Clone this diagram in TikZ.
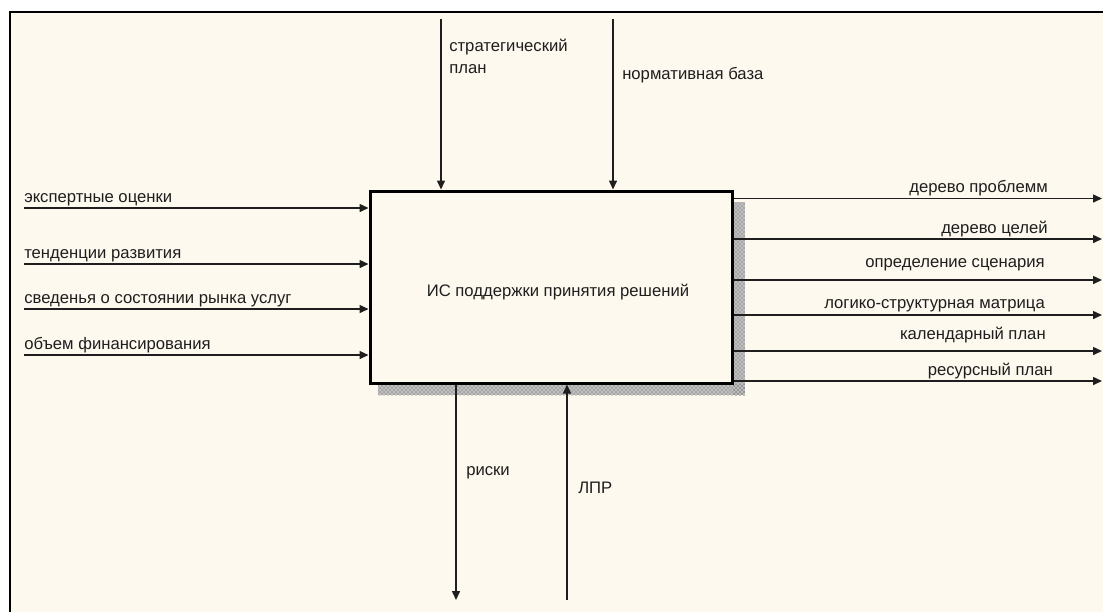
\documentclass[tikz,border=0pt]{standalone}
\usepackage{fontspec}
\setmainfont{Liberation Sans}
\usetikzlibrary{arrows.meta,patterns,calc}
\definecolor{bgcream}{HTML}{FEF9EE}
\definecolor{ink}{HTML}{1E1E1E}
\tikzset{
  conn/.style={draw=ink, line width=1.1pt},
  arr/.style={conn, -{Triangle[length=6.75pt,width=6pt]}},
  lbl/.style={inner sep=0pt, text=ink, font=\fontsize{12.5}{16.5}\selectfont},
  func/.style={draw=black, line width=2.25pt, fill=bgcream, minimum width=271.5pt, minimum height=144pt, inner sep=0pt},
  shadowbg/.style={fill=black!25},
  shadowpat/.style={pattern=crosshatch dots, pattern color=black!65},
}
\begin{document}
\begin{tikzpicture}[x=0.75pt,y=-0.75pt]
\useasboundingbox (0,0) rectangle (1103,612);
% frame
\fill[bgcream] (10,12) rectangle (1103,612);
\draw[black, line width=1.5pt] (9.5,612) -- (9.5,12) -- (1103,12);
% shadow
\fill[shadowbg] (733,202) rectangle (745,395);
\fill[shadowbg] (378,384) rectangle (745,395);
\fill[shadowpat] (733,202) rectangle (745,395);
\fill[shadowpat] (378,384) rectangle (745,395);
% function box
\node[func] (box) at (551,287) {};
\node[lbl, anchor=base] (boxtxt) at (558,296) {ИС поддержки принятия решений};
% inputs
\coordinate (i1) at (24,208);
\coordinate (i2) at (24,264);
\coordinate (i3) at (24,309);
\coordinate (i4) at (24,355);
\draw[arr] (i1) -- (i1 -| box.west);
\draw[arr] (i2) -- (i2 -| box.west);
\draw[arr] (i3) -- (i3 -| box.west);
\draw[arr] (i4) -- (i4 -| box.west);
\node[lbl, anchor=base west] (li1) at (24,202) {экспертные оценки};
\node[lbl, anchor=base west] (li2) at (24,258.5) {тенденции развития};
\node[lbl, anchor=base west] (li3) at (24,303.5) {сведенья о состоянии рынка услуг};
\node[lbl, anchor=base west] (li4) at (24,349.5) {объем финансирования};
% controls
\coordinate (c1) at (441,19);
\coordinate (c2) at (613,19);
\draw[arr] (c1) -- (c1 |- box.north);
\draw[arr] (c2) -- (c2 |- box.north);
\node[lbl, anchor=base west, align=left] (lc1) at (449,73) {стратегический\\план};
\node[lbl, anchor=base west] (lc2) at (622,79) {нормативная база};
% outputs
\coordinate (o1) at (1102,198.5);
\coordinate (o2) at (1102,239);
\coordinate (o3) at (1102,280);
\coordinate (o4) at (1102,315);
\coordinate (o5) at (1102,351);
\coordinate (o6) at (1102,381);
\draw[arr] (o1 -| box.east) -- (o1);
\draw[arr] (o2 -| box.east) -- (o2);
\draw[arr] (o3 -| box.east) -- (o3);
\draw[arr] (o4 -| box.east) -- (o4);
\draw[arr] (o5 -| box.east) -- (o5);
\draw[arr] (o6 -| box.east) -- (o6);
\node[lbl, anchor=base east] (lo1) at (1048,192) {дерево проблемм};
\node[lbl, anchor=base east] (lo2) at (1048,233) {дерево целей};
\node[lbl, anchor=base east] (lo3) at (1045,267) {определение сценария};
\node[lbl, anchor=base east] (lo4) at (1045,308.5) {логико-структурная матрица};
\node[lbl, anchor=base east] (lo5) at (1046,339.5) {календарный план};
\node[lbl, anchor=base east] (lo6) at (1053,375) {ресурсный план};
% bottom
\coordinate (r1) at (456,600);
\coordinate (m1) at (567,600);
\draw[arr] (r1 |- box.south) -- (r1);
\draw[arr] (m1) -- (m1 |- box.south);
\node[lbl, anchor=base west] (lr1) at (466,475) {риски};
\node[lbl, anchor=base west] (lm1) at (578,493) {ЛПР};
\end{tikzpicture}
\end{document}
